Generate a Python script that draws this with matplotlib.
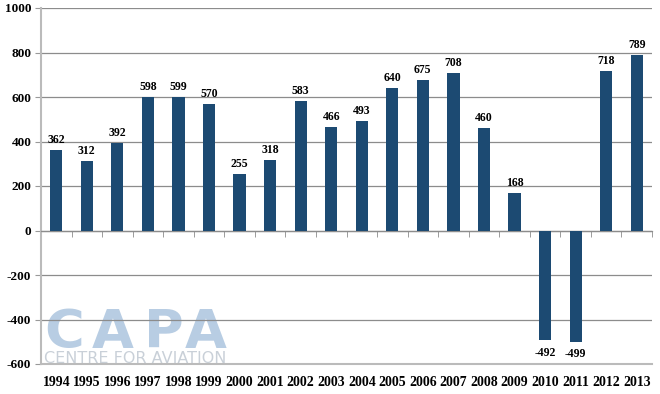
import matplotlib
matplotlib.use("Agg")
import matplotlib.pyplot as plt
import numpy as np

years = [str(y) for y in range(1994, 2014)]
values = [362, 312, 392, 598, 599, 570, 255, 318, 583, 466, 493, 640, 675, 708, 460, 168, -492, -499, 718, 789]
yticks = [-600, -400, -200, 0, 200, 400, 600, 800, 1000]

plt.rcParams["font.family"] = ["Liberation Serif", "DejaVu Serif"]
plt.rcParams["font.weight"] = "bold"

fig = plt.figure(figsize=(6.6, 3.94), dpi=100)
ax = fig.add_axes([41/660, 1 - 364/394, 611/660, 356/394])
x = np.arange(len(years))
ax.bar(x, values, width=0.4, color="#1c4a72", zorder=3)
ax.set_xlim(-0.5, len(years) - 0.5)
ax.set_ylim(-600, 1000)
ax.set_yticks(yticks)
ax.set_yticklabels([str(t) for t in yticks], fontsize=9.5, fontweight="bold")
ax.set_xticks(x)
ax.set_xticks(np.arange(len(years) + 1) - 0.5, minor=True)
ax.set_xticklabels(years, fontsize=9.5, fontweight="bold")
ax.tick_params(axis="y", length=4, color="#999999", pad=3)
ax.tick_params(axis="x", which="major", length=0, pad=9)
ax.tick_params(axis="x", which="minor", bottom=False, top=True, direction="in",
               length=4, color="#8c8c8c", labeltop=False, labelbottom=False)
ax.grid(axis="y", color="#8c8c8c", linewidth=0.9, zorder=1)
ax.set_axisbelow(True)
ax.spines["right"].set_visible(False)
ax.spines["top"].set_position(("data", 0))
ax.spines["top"].set_color("#8c8c8c")
ax.spines["top"].set_linewidth(0.9)
for s in ["left", "bottom"]:
    ax.spines[s].set_color("#bbbbbb")
    ax.spines[s].set_linewidth(1.5)

for xi, v in zip(x, values):
    if v >= 0:
        ax.text(xi, v + 18, str(v), ha="center", va="bottom",
                fontweight="bold", fontsize=8.5, zorder=4)
    else:
        ax.text(xi, v - 30, str(v), ha="center", va="top",
                fontweight="bold", fontsize=8.5, zorder=4)

# watermark
for ch, cx in zip("CAPA", [64, 113, 164, 206]):
    ax.text(cx/660, 1 - 348/394, ch, transform=fig.transFigure, fontsize=39,
            fontweight="bold", fontfamily="DejaVu Sans", color="#b8cde3", ha="center",
            va="baseline", zorder=0.5, clip_on=False)
ax.text(44/660, 1 - 363/394, "CENTRE FOR AVIATION", transform=fig.transFigure, fontsize=11.5,
        fontfamily="DejaVu Sans", fontweight="normal", color="#c9d0d8", ha="left",
        va="baseline", zorder=0.5, clip_on=False)

fig.savefig("out.png", dpi=100)
